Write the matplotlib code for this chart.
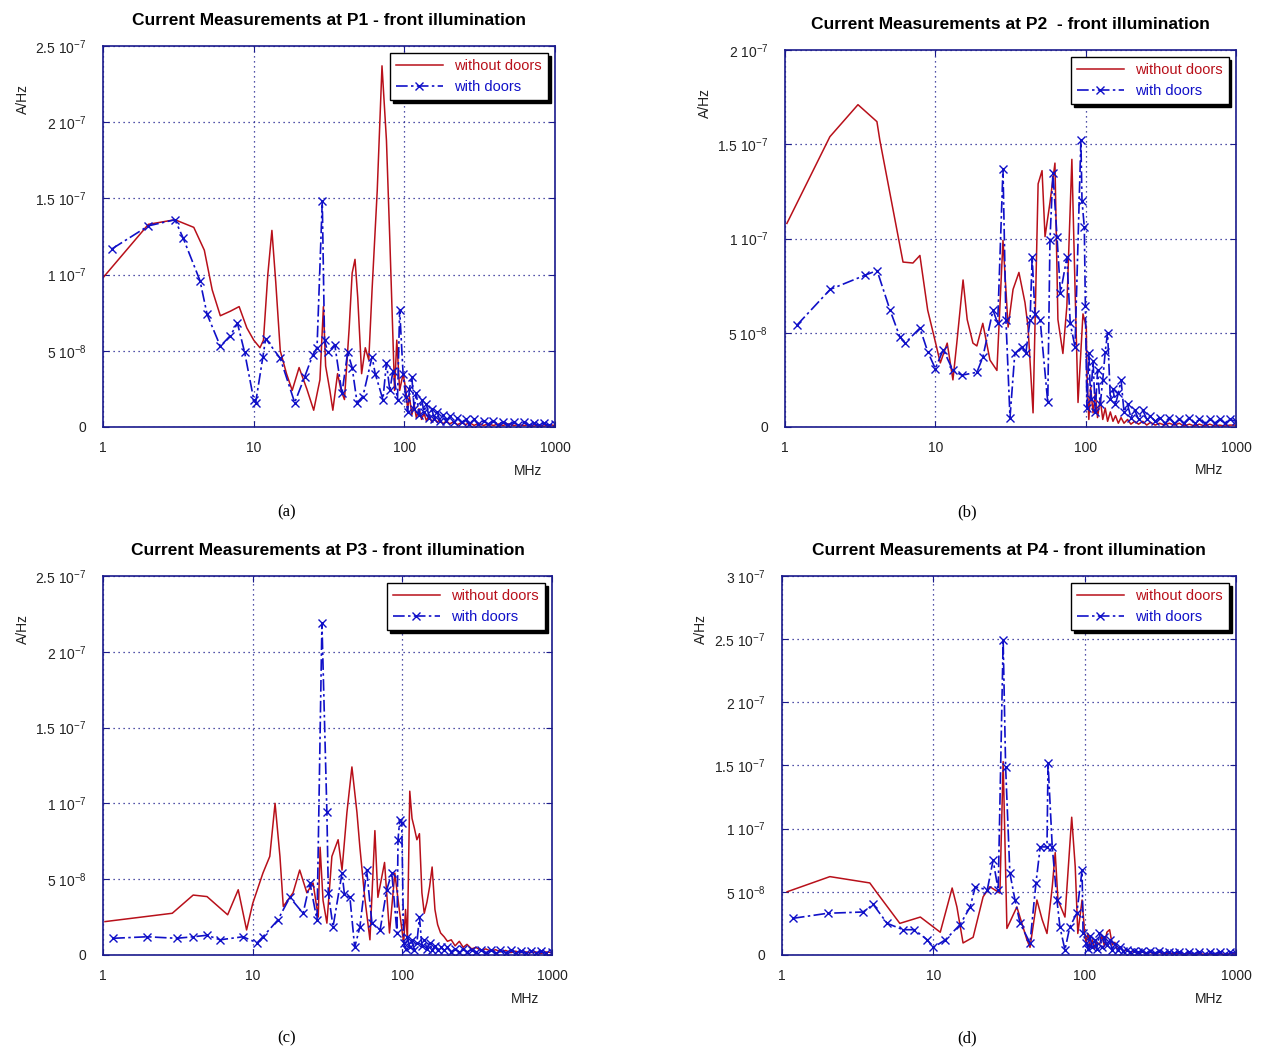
"""Current measurements at P1-P4, front illumination."""

import matplotlib
matplotlib.use("Agg")
import matplotlib.pyplot as plt

plt.rcParams["font.family"] = ["Liberation Sans", "DejaVu Sans"]
plt.rcParams["mathtext.default"] = "regular"

NAVY = "#1a1a8c"
RED = "#b8101a"
BLUE = "#1010c8"
SCALE = 1e-8  # values below are in units of 1e-8 A/Hz

TITLES = ["Current Measurements at P1 - front illumination",
          "Current Measurements at P2  - front illumination",
          "Current Measurements at P3 - front illumination",
          "Current Measurements at P4 - front illumination"]
PANEL_LABELS = ["(a)", "(b)", "(c)", "(d)"]

# shared high-frequency tail, MHz
tail_f = [102, 105, 108, 112, 116, 120, 125, 130, 135, 140, 146, 152, 158, 165,
          172, 180, 190, 200, 212, 225, 240, 255, 270, 290, 310, 335, 360, 390,
          420, 450, 490, 530, 570, 620, 670, 720, 780, 840, 910, 1000]

# ---- P1 ----
a_red_f = [1, 2, 3, 4, 4.7, 5.3, 6, 7, 8, 9, 10, 11, 11.6, 12.4, 13.2, 14, 15,
           16.5, 18, 20, 22.5, 25, 27.5, 29, 30, 32, 33.5, 36, 38, 40, 43, 45,
           47, 49, 52, 55, 58, 61, 66, 71, 76, 80, 84, 86, 89, 93, 98]
a_red = [9.8, 13.3, 13.6, 13.1, 11.6, 9.0, 7.3, 7.6, 7.9, 6.5, 5.7, 5.2, 5.7,
         10.0, 12.9, 9.5, 5.0, 3.5, 2.4, 3.9, 2.5, 1.1, 3.1, 7.9, 4.0, 2.4, 1.1,
         3.5, 2.4, 1.8, 6.5, 10.1, 11.0, 8.5, 3.5, 5.2, 4.4, 9.0, 15.5, 23.7,
         18.8, 12.3, 5.7, 2.4, 5.7, 2.4, 3.5]
a_red_tail = [2.5, 1.2, 2.0, 0.8, 1.5, 0.6, 1.2, 0.5, 0.9, 0.4, 0.8, 0.3, 0.6,
              0.3, 0.5, 0.2, 0.4, 0.2, 0.35, 0.15, 0.3, 0.15, 0.3, 0.1, 0.25,
              0.1, 0.2, 0.1, 0.2, 0.1, 0.2, 0.1, 0.15, 0.1, 0.15, 0.05, 0.15,
              0.05, 0.15, 0.1]
a_blue_f = [1.15, 2, 3, 3.4, 4.4, 4.9, 6, 7, 7.8, 8.7, 10, 10.3, 11.5, 12, 15,
            18.7, 21.8, 24.6, 26.3, 28.5, 29.5, 31, 34.5, 38.5, 42, 45, 48.5,
            53, 61, 64, 72, 76, 80, 84, 90, 93, 98]
a_blue = [11.7, 13.2, 13.6, 12.4, 9.6, 7.4, 5.3, 6.0, 6.8, 4.9, 1.8, 1.6, 4.6,
          5.8, 4.5, 1.6, 3.3, 4.7, 5.2, 14.8, 5.7, 4.9, 5.4, 2.2, 4.9, 3.9, 1.6,
          2.0, 4.6, 3.5, 1.8, 4.2, 2.4, 3.7, 1.8, 7.7, 3.5]
a_blue_tail = [2.0, 1.0, 2.5, 3.3, 1.2, 2.2, 0.8, 1.8, 1.0, 1.5, 0.6, 1.2, 0.5,
               1.0, 0.4, 0.8, 0.4, 0.7, 0.3, 0.6, 0.3, 0.5, 0.2, 0.5, 0.2, 0.4,
               0.2, 0.4, 0.15, 0.35, 0.15, 0.3, 0.1, 0.3, 0.1, 0.25, 0.1, 0.25,
               0.1, 0.2]

# ---- P2 ----
b_red_f = [1.03, 1.99, 3.06, 4.09, 4.28, 6.1, 7.1, 7.9, 8.9, 9.95, 10.8, 12.0,
           13.1, 13.9, 15.3, 16.3, 17.8, 18.9, 20.7, 23.1, 25.7, 28.2, 30.5,
           32.9, 36, 39.5, 41.4, 44.7, 48.3, 51.3, 53.7, 57.9, 62.5, 65.4, 70.6,
           75, 81, 85, 89, 96, 101]
b_red = [10.8, 15.4, 17.1, 16.2, 15.2, 8.75, 8.7, 9.1, 6.2, 4.6, 3.4, 4.45,
         2.5, 4.45, 7.8, 5.7, 4.45, 4.3, 5.5, 3.55, 3.0, 9.9, 5.3, 7.3, 8.2, 6.6,
         5.3, 0.75, 12.9, 13.6, 10.1, 11.9, 14.0, 5.7, 3.9, 6.4, 14.2, 7.4, 1.3,
         6.0, 5.3]
b_red_tail = [2.9, 0.4, 2.1, 0.75, 1.8, 0.5, 1.5, 0.4, 1.0, 0.3, 0.8, 0.3, 0.6,
              0.2, 0.5, 0.2, 0.4, 0.15, 0.3, 0.15, 0.3, 0.1, 0.25, 0.1, 0.2,
              0.1, 0.2, 0.1, 0.2, 0.05, 0.15, 0.05, 0.15, 0.05, 0.15, 0.05, 0.1,
              0.05, 0.1, 0.1]
b_blue_f = [1.2, 2.0, 3.4, 4.1, 5.0, 5.8, 6.3, 7.9, 8.9, 10, 11.3, 13.1, 15,
            18.9, 20.7, 24.2, 26, 28.2, 29.5, 31.4, 33.8, 37.7, 40, 42.7, 44.1,
            46, 49.8, 56, 57.9, 60.6, 64.5, 68, 75, 79, 85, 93, 94.6, 98, 99.6]
b_blue = [5.4, 7.3, 8.05, 8.3, 6.2, 4.8, 4.45, 5.25, 4.0, 3.1, 4.1, 3.0, 2.75,
          2.9, 3.7, 6.2, 5.5, 13.7, 5.7, 0.5, 3.9, 4.25, 3.9, 5.7, 9.0, 6.0,
          5.7, 1.3, 9.9, 13.5, 10.1, 7.1, 9.0, 5.5, 4.25, 15.2, 12.0, 10.6, 6.4]
b_blue_tail = [1.0, 3.9, 1.5, 3.5, 0.8, 3.0, 1.2, 2.5, 4.0, 5.0, 1.5, 2.0, 1.2,
               1.8, 2.5, 0.8, 1.2, 0.5, 0.9, 0.4, 0.9, 0.4, 0.6, 0.3, 0.5, 0.2,
               0.5, 0.2, 0.4, 0.2, 0.5, 0.2, 0.4, 0.2, 0.4, 0.2, 0.4, 0.2, 0.4,
               0.3]

# ---- P3 ----
c_red_f = [1.03, 2.9, 4.0, 4.95, 6.8, 8.0, 9.1, 10, 11.7, 13, 14.1, 15.2, 16,
           18.6, 20.6, 23, 25.3, 27.4, 28.2, 29.5, 31.3, 33.8, 37.2, 39.5, 42.6,
           46, 49.7, 52, 56, 60.7, 65.5, 68.6, 76, 82, 89, 96]
c_red = [2.2, 2.75, 3.95, 3.85, 2.65, 4.3, 1.65, 3.4, 5.4, 6.5, 10.0, 6.5, 3.2,
         4.1, 5.6, 4.1, 4.75, 2.5, 7.1, 3.6, 2.1, 6.5, 7.6, 5.6, 9.4, 12.4, 9.4,
         7.1, 3.8, 1.0, 8.2, 3.8, 6.1, 1.45, 5.4, 2.75]
c_red_tail = [0.8, 3.0, 1.0, 10.8, 9.0, 8.4, 7.6, 8.0, 4.1, 2.75, 3.5, 4.5, 5.8,
              3.0, 2.0, 1.45, 1.2, 0.9, 1.0, 0.6, 0.9, 0.5, 0.7, 0.4, 0.5, 0.3,
              0.4, 0.25, 0.35, 0.2, 0.3, 0.15, 0.25, 0.15, 0.2, 0.15, 0.2, 0.1,
              0.2, 0.15]
c_blue_f = [1.17, 1.97, 3.1, 4.0, 4.95, 6.05, 8.6, 10.7, 11.7, 14.7, 17.7, 21.7,
            24.1, 26.9, 29, 31.3, 32, 34.4, 39.5, 41, 44.6, 48, 52, 57.7, 62.6,
            71, 78.6, 85, 92, 93.5, 96, 99]
c_blue = [1.1, 1.2, 1.1, 1.2, 1.3, 1.0, 1.2, 0.8, 1.2, 2.3, 3.8, 2.75, 4.75,
          2.3, 21.9, 9.4, 4.1, 1.85, 5.4, 4.0, 3.8, 0.5, 1.85, 5.6, 2.1, 1.65,
          4.3, 5.4, 1.45, 7.6, 8.9, 8.7]
c_blue_tail = [0.8, 0.4, 1.2, 0.5, 1.0, 0.3, 0.8, 2.5, 0.6, 1.0, 0.4, 0.8, 0.3,
               0.6, 0.3, 0.5, 0.3, 0.5, 0.2, 0.4, 0.2, 0.4, 0.2, 0.35, 0.2,
               0.35, 0.15, 0.3, 0.15, 0.3, 0.15, 0.3, 0.15, 0.25, 0.1, 0.25,
               0.1, 0.25, 0.1, 0.2]

# ---- P4 ----
d_red_f = [1.08, 2.07, 3.8, 4.25, 6.0, 8.2, 11.1, 13.3, 14.3, 15.7, 18.3, 21.3,
           23.6, 27.5, 28.9, 30.6, 35.6, 41.5, 43.5, 48.3, 52.3, 56.3, 61, 63.8,
           66.5, 74, 82, 86.5, 90, 96, 100]
d_red = [5.0, 6.2, 5.7, 4.9, 2.5, 3.0, 1.8, 5.3, 3.8, 0.95, 1.4, 4.6, 5.4, 4.9,
         15.3, 2.1, 3.8, 1.2, 0.6, 4.35, 2.8, 1.7, 5.4, 8.1, 4.35, 3.0, 10.9,
         7.0, 1.7, 4.35, 1.7]
d_red_tail = [1.0, 1.7, 0.6, 1.2, 0.5, 1.0, 0.8, 1.5, 0.7, 1.8, 2.0, 0.8, 1.0,
              0.4, 0.6, 0.3, 0.4, 0.2, 0.3, 0.15, 0.25, 0.1, 0.2, 0.1, 0.2, 0.1,
              0.15, 0.1, 0.15, 0.05, 0.15, 0.05, 0.1, 0.05, 0.1, 0.05, 0.1,
              0.05, 0.1, 0.1]
d_blue_f = [1.18, 2.0, 3.43, 4.0, 4.95, 6.3, 7.5, 9.1, 10, 12, 15, 17.5, 18.9,
            22.7, 24.8, 26.8, 28.9, 30, 32, 34.6, 37.4, 43.5, 47.6, 50.8, 56.3,
            57.2, 61, 65.5, 68.6, 74, 79.6, 88.6, 96, 97.5]
d_blue = [2.9, 3.3, 3.4, 4.0, 2.5, 2.0, 2.0, 1.2, 0.6, 1.2, 2.4, 3.8, 5.4, 5.15,
          7.5, 5.15, 24.9, 14.9, 6.5, 4.35, 2.5, 0.95, 5.7, 8.55, 8.55, 15.2,
          8.55, 4.35, 2.2, 0.4, 2.2, 3.3, 6.7, 1.7]
d_blue_tail = [0.95, 0.5, 1.5, 0.6, 1.2, 0.5, 1.7, 0.6, 1.4, 0.8, 1.2, 0.4, 0.9,
               0.4, 0.6, 0.3, 0.4, 0.2, 0.35, 0.2, 0.3, 0.15, 0.3, 0.15, 0.3,
               0.15, 0.25, 0.15, 0.25, 0.1, 0.25, 0.1, 0.25, 0.1, 0.2, 0.1, 0.2,
               0.1, 0.2, 0.15]

# y ticks (A/Hz) and their labels per panel
y_ticks = [[0, 5e-8, 1e-7, 1.5e-7, 2e-7, 2.5e-7],
           [0, 5e-8, 1e-7, 1.5e-7, 2e-7],
           [0, 5e-8, 1e-7, 1.5e-7, 2e-7, 2.5e-7],
           [0, 5e-8, 1e-7, 1.5e-7, 2e-7, 2.5e-7, 3e-7]]
y_labels = [["0", "5 10$^{-8}$", "1 10$^{-7}$", "1.5 10$^{-7}$", "2 10$^{-7}$", "2.5 10$^{-7}$"],
            ["0", "5 10$^{-8}$", "1 10$^{-7}$", "1.5 10$^{-7}$", "2 10$^{-7}$"],
            ["0", "5 10$^{-8}$", "1 10$^{-7}$", "1.5 10$^{-7}$", "2 10$^{-7}$", "2.5 10$^{-7}$"],
            ["0", "5 10$^{-8}$", "1 10$^{-7}$", "1.5 10$^{-7}$", "2 10$^{-7}$", "2.5 10$^{-7}$", "3 10$^{-7}$"]]
x_ticks = [1, 10, 100, 1000]
x_labels = ["1", "10", "100", "1000"]

series = [
    (a_red_f, a_red, a_red_tail, a_blue_f, a_blue, a_blue_tail),
    (b_red_f, b_red, b_red_tail, b_blue_f, b_blue, b_blue_tail),
    (c_red_f, c_red, c_red_tail, c_blue_f, c_blue, c_blue_tail),
    (d_red_f, d_red, d_red_tail, d_blue_f, d_blue, d_blue_tail),
]

# axes rectangles [left, bottom, width, height] in figure fractions
rects = [[0.0816, 0.5945, 0.3579, 0.3618],
         [0.6215, 0.5945, 0.3571, 0.3580],
         [0.0816, 0.0931, 0.3555, 0.3600],
         [0.6192, 0.0931, 0.3595, 0.3600]]
# panel label positions in figure fractions
label_pos = [(0.2265, 0.5138), (0.7656, 0.5138), (0.2265, 0.0143), (0.7656, 0.0143)]

fig = plt.figure(figsize=(12.63, 10.53), dpi=100)

for i, (rf, rv, rt, bf, bv, bt) in enumerate(series):
    ax = fig.add_axes(rects[i])
    ax.set_xscale("log")
    ax.plot(rf + tail_f, [v * SCALE for v in rv + rt], color=RED, lw=1.1,
            label="without doors")
    ax.plot(bf + tail_f, [v * SCALE for v in bv + bt], color=BLUE, lw=1.2,
            dashes=(7, 2, 1.5, 2), marker="x", ms=6, mew=1.0,
            label="with doors")

    ax.set_xlim(1, 1000)
    ax.set_ylim(0, y_ticks[i][-1])
    ax.set_xticks(x_ticks)
    ax.set_xticklabels(x_labels)
    ax.minorticks_off()
    ax.set_yticks(y_ticks[i])
    ax.set_yticklabels(y_labels[i])
    ax.tick_params(direction="in", top=True, right=True, length=4, width=0.8,
                   color=NAVY, labelsize=10, labelcolor="#222222")
    ax.tick_params(axis="y", pad=12)
    ax.tick_params(axis="x", pad=10)
    for sp in ax.spines.values():
        sp.set_color(NAVY)
        sp.set_linewidth(1.2)
    ax.grid(True, color=NAVY, ls=(0, (1, 3)), lw=0.9)

    ax.set_title(TITLES[i], fontsize=12.5, fontweight="bold", pad=15)
    ax.text(0.94, -0.115, "MHz", transform=ax.transAxes, fontsize=10,
            color="#222222", ha="center", va="center")
    ax.text(-0.178, 0.86, "A/Hz", transform=ax.transAxes, fontsize=10,
            color="#222222", rotation=90, ha="center", va="center")
    fig.text(label_pos[i][0], label_pos[i][1], PANEL_LABELS[i],
             fontsize=12, family=["Liberation Serif", "DejaVu Serif"],
             ha="center", va="center")

    leg = ax.legend(loc="upper right", fontsize=10.5, handlelength=3.2,
                    borderaxespad=0.5, fancybox=False, framealpha=1,
                    edgecolor="black", labelcolor="linecolor",
                    shadow={"color": "black", "alpha": 1.0})
    leg.get_frame().set_linewidth(1.0)

fig.savefig("out.png", dpi=100, facecolor="white")
plt.close(fig)
